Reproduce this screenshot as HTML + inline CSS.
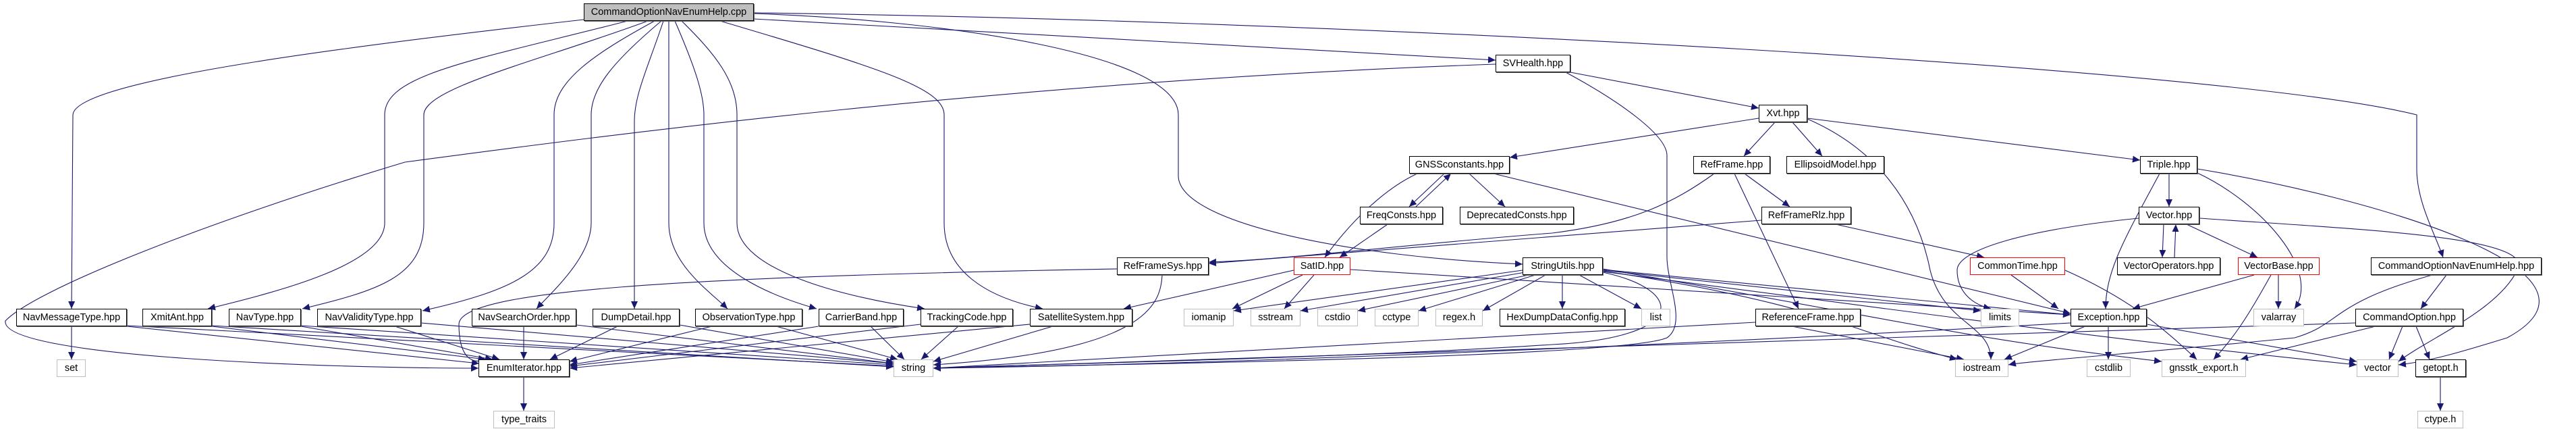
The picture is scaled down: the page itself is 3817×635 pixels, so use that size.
<!DOCTYPE html>
<html><head><meta charset="utf-8"><style>
html,body{margin:0;padding:0;background:#fff;}
#c{position:relative;width:3817px;height:635px;overflow:hidden;}
.n{position:absolute;box-sizing:border-box;height:26px;border:1px solid #000;background:#fff;font-family:"Liberation Sans",sans-serif;font-size:14.5px;line-height:24px;text-align:center;white-space:nowrap;color:#000;box-shadow:1px 1px 0 #666;overflow:hidden;}
.g{border-color:#bfbfbf;box-shadow:none;}
.r{border-color:#ff0000;box-shadow:none;}
svg{position:absolute;left:0;top:0;}
</style></head><body><div id="c">
<svg width="3817" height="635" viewBox="0 0 3817 635">
<defs><marker id="a" markerUnits="userSpaceOnUse" markerWidth="12" markerHeight="10" refX="11" refY="5" orient="auto"><path d="M0,0 L11,5 L0,10 z" fill="#191970"/></marker></defs>
<g fill="none" stroke="#191970" stroke-width="1.1" marker-end="url(#a)">
<path d="M865,29 C500,70 110,120 108,170 L106,457"/>
<path d="M930,31 C700,90 570,110 570,170 L570,330 C570,390 420,430 308,457"/>
<path d="M960,31 C800,90 628,130 628,170 L628,330 C628,410 560,430 448,457"/>
<path d="M970,31 C880,80 821,120 821,170 L821,330 C821,400 760,430 626,460"/>
<path d="M980,31 C910,90 876,130 876,170 L876,330 C876,380 820,430 795,457"/>
<path d="M983,31 C960,100 940,140 940,180 L940,457"/>
<path d="M991,31 L991,330 C991,390 1050,430 1078,457"/>
<path d="M1000,31 C1030,100 1043,140 1043,170 L1043,330 C1043,400 1150,440 1210,457"/>
<path d="M1010,31 C1060,80 1092,120 1092,170 L1092,330 C1092,400 1250,440 1370,457"/>
<path d="M1067,31 C1300,100 1399,130 1399,170 L1399,330 C1399,400 1460,440 1545,457"/>
<path d="M1117,20 C1400,30 1746,80 1746,170 L1746,260 C1746,330 2000,380 2256,391"/>
<path d="M1117,28 L2216,89"/>
<path d="M1117,19 C2000,30 3300,100 3581,170 L3581,250 C3581,300 3610,350 3620,381"/>
<path d="M2216,95 C1500,120 900,200 600,240 C300,330 50,430 8,475 C0,530 500,545 709,545"/>
<path d="M2320,107 C2400,150 2470,200 2470,230 L2470,380 C2470,420 2500,480 2470,500 C2400,530 1600,540 1383,545"/>
<path d="M2327,107 L2606,160"/>
<path d="M2606,175 L2237,233"/>
<path d="M2630,181 L2584,231"/>
<path d="M2656,181 L2700,231"/>
<path d="M2678,175 L3171,237"/>
<path d="M2678,176 C2780,220 2840,300 2860,400 C2880,480 2950,480 2950,532"/>
<path d="M2100,257 C2050,280 2000,330 1963,381"/>
<path d="M2140,257 L2088,306"/>
<path d="M2098,306 L2150,257"/>
<path d="M2177,257 L2230,306"/>
<path d="M2213,257 L3068,464"/>
<path d="M2056,332 L1985,381"/>
<path d="M2540,257 C2480,300 2420,330 2300,345 C2100,360 1900,385 1791,388"/>
<path d="M2585,257 L2652,306"/>
<path d="M2570,257 L2665,457"/>
<path d="M2610,326 L1791,390"/>
<path d="M2720,332 L2940,381"/>
<path d="M1655,398 C1000,410 680,430 680,480 C680,530 700,540 720,532"/>
<path d="M1722,407 C1720,450 1700,520 1383,540"/>
<path d="M1917,400 L1665,457"/>
<path d="M1930,407 L1826,457"/>
<path d="M1947,407 L1903,457"/>
<path d="M2001,399 L3068,466"/>
<path d="M2256,400 L1828,460"/>
<path d="M2260,403 L1927,460"/>
<path d="M2265,407 L2012,460"/>
<path d="M2275,407 L2102,460"/>
<path d="M2290,407 L2197,460"/>
<path d="M2315,407 L2315,457"/>
<path d="M2340,407 L2432,457"/>
<path d="M2375,403 C2500,430 2500,500 2300,510 C2000,530 1500,540 1383,545"/>
<path d="M2375,400 L2935,460"/>
<path d="M2375,399 L3068,466"/>
<path d="M2375,401 C2700,450 2740,490 2900,532"/>
<path d="M2375,398 C2800,470 2900,500 3203,535"/>
<path d="M2375,402 C2900,470 3100,500 3492,540"/>
<path d="M3214,257 L3214,306"/>
<path d="M3200,257 C3150,350 3120,400 3120,457"/>
<path d="M3256,256 C3350,300 3440,400 3400,457"/>
<path d="M3256,250 C3500,290 3900,400 3715,500 C3650,520 3600,535 3554,540"/>
<path d="M3169,323 C3000,340 2900,370 2900,400 C2900,430 2920,450 2950,457"/>
<path d="M3259,323 C3500,340 3760,350 3730,400 C3700,460 3600,500 3554,535"/>
<path d="M3206,332 L3204,381"/>
<path d="M3222,381 L3224,332"/>
<path d="M3240,332 L3345,381"/>
<path d="M2980,407 L3050,457"/>
<path d="M3060,400 C3150,440 3200,480 3255,532"/>
<path d="M3340,407 L3160,457"/>
<path d="M3365,407 C3330,470 3310,500 3280,532"/>
<path d="M3376,407 L3376,457"/>
<path d="M3604,407 C3450,450 3470,480 3400,500 C3200,520 3000,535 2976,540"/>
<path d="M3625,407 L3587,457"/>
<path d="M3560,483 L3540,532"/>
<path d="M3580,483 L3600,532"/>
<path d="M3520,483 L3320,532"/>
<path d="M3490,478 C3000,500 2000,520 1383,545"/>
<path d="M3090,483 L2970,532"/>
<path d="M3124,483 L3124,532"/>
<path d="M3181,480 L3492,535"/>
<path d="M3068,478 C2500,510 1800,540 1383,545"/>
<path d="M2655,483 L2910,532"/>
<path d="M2601,477 L1383,545"/>
<path d="M3616,558 L3616,608"/>
<path d="M776,558 L776,608"/>
<path d="M106,483 L106,532"/>
<path d="M188,483 L710,538"/><path d="M188,482 L1324,542"/>
<path d="M314,483 L720,532"/><path d="M314,482 L1324,543"/>
<path d="M446,483 L730,532"/><path d="M446,482 L1324,540"/>
<path d="M585,483 L740,532"/><path d="M624,478 L1324,538"/>
<path d="M776,483 L776,532"/><path d="M854,481 L1324,538"/>
<path d="M915,483 L815,532"/><path d="M1007,481 L1324,536"/>
<path d="M1055,483 L844,535"/><path d="M1150,483 L1330,532"/>
<path d="M1213,483 L844,540"/><path d="M1290,483 L1340,532"/>
<path d="M1364,480 L844,542"/><path d="M1420,483 L1365,532"/>
<path d="M1526,480 L844,545"/><path d="M1560,483 L1383,535"/>
</g></svg>
<div class="n" style="left:865px;top:5px;width:252px;background:#bfbfbf;">CommandOptionNavEnumHelp.cpp</div>
<div class="n" style="left:2216px;top:81px;width:111px;">SVHealth.hpp</div>
<div class="n" style="left:2606px;top:155px;width:72px;">Xvt.hpp</div>
<div class="n" style="left:2088px;top:231px;width:149px;">GNSSconstants.hpp</div>
<div class="n" style="left:2509px;top:231px;width:114px;">RefFrame.hpp</div>
<div class="n" style="left:2647px;top:231px;width:145px;">EllipsoidModel.hpp</div>
<div class="n" style="left:3171px;top:231px;width:85px;">Triple.hpp</div>
<div class="n" style="left:2015px;top:306px;width:123px;">FreqConsts.hpp</div>
<div class="n" style="left:2163px;top:306px;width:169px;">DeprecatedConsts.hpp</div>
<div class="n" style="left:2610px;top:306px;width:133px;">RefFrameRlz.hpp</div>
<div class="n" style="left:3169px;top:306px;width:90px;">Vector.hpp</div>
<div class="n" style="left:1655px;top:381px;width:136px;">RefFrameSys.hpp</div>
<div class="n r" style="left:1917px;top:381px;width:84px;">SatID.hpp</div>
<div class="n" style="left:2256px;top:381px;width:119px;">StringUtils.hpp</div>
<div class="n r" style="left:2919px;top:381px;width:141px;">CommonTime.hpp</div>
<div class="n" style="left:3137px;top:381px;width:153px;">VectorOperators.hpp</div>
<div class="n r" style="left:3316px;top:381px;width:121px;">VectorBase.hpp</div>
<div class="n" style="left:3513px;top:381px;width:253px;">CommandOptionNavEnumHelp.hpp</div>
<div class="n" style="left:24px;top:457px;width:164px;">NavMessageType.hpp</div>
<div class="n" style="left:211px;top:457px;width:103px;">XmitAnt.hpp</div>
<div class="n" style="left:339px;top:457px;width:107px;">NavType.hpp</div>
<div class="n" style="left:470px;top:457px;width:154px;">NavValidityType.hpp</div>
<div class="n" style="left:699px;top:457px;width:155px;">NavSearchOrder.hpp</div>
<div class="n" style="left:878px;top:457px;width:129px;">DumpDetail.hpp</div>
<div class="n" style="left:1030px;top:457px;width:159px;">ObservationType.hpp</div>
<div class="n" style="left:1213px;top:457px;width:126px;">CarrierBand.hpp</div>
<div class="n" style="left:1364px;top:457px;width:137px;">TrackingCode.hpp</div>
<div class="n" style="left:1526px;top:457px;width:152px;">SatelliteSystem.hpp</div>
<div class="n g" style="left:1754px;top:457px;width:74px;">iomanip</div>
<div class="n g" style="left:1853px;top:457px;width:74px;">sstream</div>
<div class="n g" style="left:1952px;top:457px;width:60px;">cstdio</div>
<div class="n g" style="left:2037px;top:457px;width:65px;">cctype</div>
<div class="n g" style="left:2127px;top:457px;width:70px;">regex.h</div>
<div class="n" style="left:2222px;top:457px;width:186px;">HexDumpDataConfig.hpp</div>
<div class="n g" style="left:2432px;top:457px;width:43px;">list</div>
<div class="n" style="left:2601px;top:457px;width:156px;">ReferenceFrame.hpp</div>
<div class="n g" style="left:2935px;top:457px;width:57px;">limits</div>
<div class="n" style="left:3068px;top:457px;width:113px;">Exception.hpp</div>
<div class="n g" style="left:3339px;top:457px;width:75px;">valarray</div>
<div class="n" style="left:3490px;top:457px;width:160px;">CommandOption.hpp</div>
<div class="n g" style="left:84px;top:532px;width:43px;">set</div>
<div class="n" style="left:709px;top:532px;width:135px;">EnumIterator.hpp</div>
<div class="n g" style="left:1324px;top:532px;width:59px;">string</div>
<div class="n g" style="left:2897px;top:532px;width:79px;">iostream</div>
<div class="n g" style="left:3092px;top:532px;width:65px;">cstdlib</div>
<div class="n g" style="left:3203px;top:532px;width:125px;">gnsstk_export.h</div>
<div class="n g" style="left:3492px;top:532px;width:62px;">vector</div>
<div class="n" style="left:3579px;top:532px;width:75px;">getopt.h</div>
<div class="n g" style="left:731px;top:608px;width:91px;">type_traits</div>
<div class="n g" style="left:3582px;top:608px;width:68px;">ctype.h</div>
</div></body></html>
